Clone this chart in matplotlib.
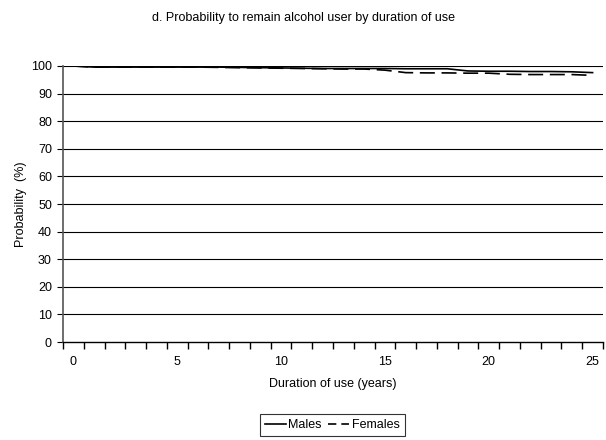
import numpy as np
import matplotlib
matplotlib.use("Agg")
import matplotlib.pyplot as plt
from matplotlib.ticker import FixedLocator

years = list(range(0, 26))
males = [100, 99.6, 99.6, 99.6, 99.6, 99.6, 99.6, 99.6, 99.5, 99.4, 99.3, 99.2, 99.1,
         99.1, 99.1, 99.1, 99.0, 99.0, 99.0, 98.2, 98.1, 98.1, 98.0, 98.0, 97.9, 97.6]
females = [100, 99.6, 99.6, 99.6, 99.6, 99.6, 99.6, 99.5, 99.4, 99.3, 99.2, 99.1, 99.0,
           98.9, 98.9, 98.5, 97.6, 97.5, 97.5, 97.4, 97.4, 97.0, 96.9, 96.9, 96.9, 96.6]
xtick_labels = ["0", "5", "10", "15", "20", "25"]
ytick_values = list(range(0, 101, 10))

plt.rcParams["font.family"] = ["Liberation Sans", "DejaVu Sans"]

fig = plt.figure(figsize=(6.06, 4.40), dpi=100)
ax = fig.add_axes([0.104, 0.2227, 0.891, 0.6273])

for y in ytick_values[1:]:
    ax.axhline(y, color="black", lw=0.8, zorder=1)

ax.plot(years, males, color="black", lw=1.2, label="Males", zorder=3)
ax.plot(years, females, color="black", lw=1.2, ls=(0, (9, 4)), label="Females", zorder=3)

ax.set_xlim(-0.5, 25.5)
ax.set_ylim(0, 100)
ax.set_yticks(ytick_values)
ax.set_xticks([0, 5, 10, 15, 20, 25])
ax.set_xticklabels(xtick_labels)
ax.xaxis.set_minor_locator(FixedLocator(np.arange(-0.5, 25.6, 1)))
ax.tick_params(axis="x", which="major", length=0, pad=10, labelsize=9)
ax.tick_params(axis="x", which="minor", length=5, width=1, direction="out", color="black")
ax.tick_params(axis="y", length=4, width=0.8, labelsize=9, pad=4)

for side in ["top", "right"]:
    ax.spines[side].set_visible(False)
ax.spines["left"].set_color("#555555")
ax.spines["left"].set_linewidth(1.2)
ax.spines["bottom"].set_color("black")
ax.spines["bottom"].set_linewidth(1.0)

ax.set_xlabel("Duration of use (years)", fontsize=9, labelpad=7)
ax.set_ylabel("Probability  (%)", fontsize=9, labelpad=3)
fig.text(0.5, 0.958, "d. Probability to remain alcohol user by duration of use",
         ha="center", va="center", fontsize=9)

leg = fig.legend(loc="center", bbox_to_anchor=(0.548, 0.034), ncol=2, frameon=True,
                 fancybox=False, edgecolor="black", fontsize=9, handlelength=1.7,
                 handletextpad=0.2, columnspacing=0.5, borderpad=0.4, borderaxespad=0)
leg.get_frame().set_linewidth(0.8)
# short dashes in the legend key, as in the original
leg.get_lines()[1].set_linestyle((0, (5, 3)))

fig.savefig("out.png", dpi=100)
